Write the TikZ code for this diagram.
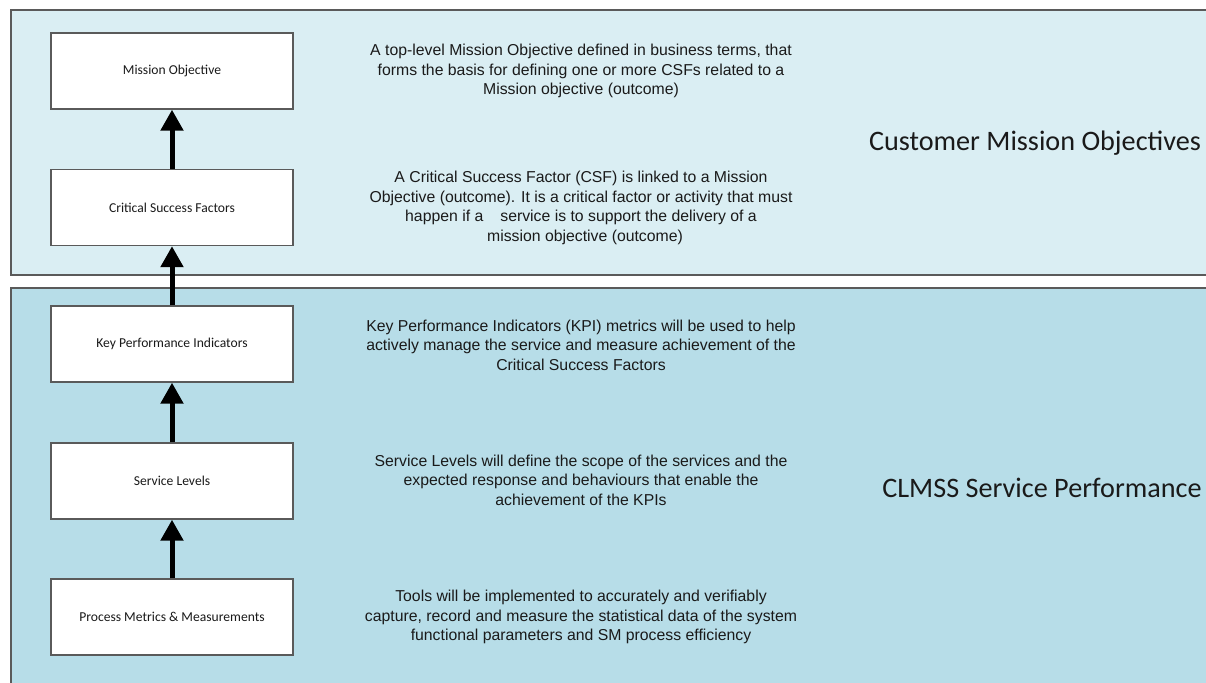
\documentclass[tikz,border=0pt]{standalone}
\usepackage{fontspec}
\setmainfont{Liberation Sans}
\newfontfamily\calib{Carlito}
\usetikzlibrary{arrows.meta}
\definecolor{toppanel}{HTML}{DAEEF3}
\definecolor{botpanel}{HTML}{B7DDE8}
\definecolor{edgegray}{HTML}{5A5A5A}
\definecolor{ink}{HTML}{1A1A1A}
\tikzset{
  panel/.style={draw=edgegray, line width=1.5pt},
  levelbox/.style={draw=edgegray, fill=white, line width=1.4pt, minimum width=242pt, minimum height=76pt, inner sep=0pt, text=ink, font=\calib\fontsize{13.6}{15}\selectfont},
  desc/.style={align=center, text=ink, inner sep=0pt, font=\fontsize{15.8}{19.5}\selectfont},
  panellabel/.style={text=ink, inner sep=0pt, font=\calib\fontsize{28.2}{32}\selectfont},
  uparrow/.style={line width=5pt, -{Triangle[width=22pt,length=21pt]}},
}
\begin{document}
\begin{tikzpicture}[x=1pt,y=-1pt]
\useasboundingbox (0,0) rectangle (1206,682);
\clip (0,0) rectangle (1206,682);
\fill[white] (0,0) rectangle (1206,682);
\draw[panel, fill=toppanel] (11,10) rectangle (1230,275);
\draw[panel, fill=botpanel] (11,288) rectangle (1230,700);

\node[levelbox] (mo)  at (172,71)    {Mission Objective};
\node[levelbox] (csf) at (172,207.5) {Critical Success Factors};
\node[levelbox] (kpi) at (172,344)   {Key Performance Indicators};
\node[levelbox] (sl)  at (172,481)   {Service Levels};
\node[levelbox] (pmm) at (172,617)   {Process Metrics \& Measurements};

\draw[uparrow] (csf.north) -- (mo.south);
\draw[uparrow] (kpi.north) -- (csf.south);
\draw[uparrow] (sl.north) -- (kpi.south);
\draw[uparrow] (pmm.north) -- (sl.south);

\node[desc] (d1) at (581,71) {A top-level Mission Objective defined in business terms, that\\forms the basis for defining one or more CSFs related to a\\Mission objective (outcome)};
\node[desc] (d2) at (581,208) {A Critical Success Factor (CSF) is linked to a Mission\\Objective (outcome). It is a critical factor or activity that must\\happen if a\hspace{17pt}service is to support the delivery of a\\\hspace{8pt}mission objective (outcome)};
\node[desc] (d3) at (581,345) {Key Performance Indicators (KPI) metrics will be used to help\\actively manage the service and measure achievement of the\\Critical Success Factors};
\node[desc] (d4) at (581,480) {Service Levels will define the scope of the services and the\\expected response and behaviours that enable the\\achievement of the KPIs};
\node[desc] (d5) at (581,617) {Tools will be implemented to accurately and verifiably\\capture, record and measure the statistical data of the system\\functional parameters and SM process efficiency};

\node[panellabel] (cmo) at (1035,143) {Customer Mission Objectives};
\node[panellabel] (csp) at (1042,488) {CLMSS Service Performance};
\end{tikzpicture}
\end{document}
